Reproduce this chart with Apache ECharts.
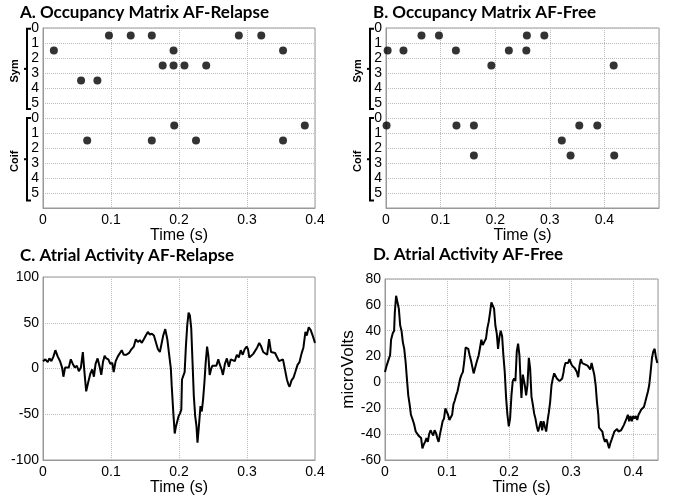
<!DOCTYPE html>
<html>
<head>
<meta charset="utf-8">
<script src="https://cdn.jsdelivr.net/npm/echarts@6/dist/echarts.min.js"></script>
<style>
  html, body { margin: 0; padding: 0; background: #fff; }
  #chart { width: 673px; height: 500px; }
</style>
</head>
<body>
<div id="chart"></div>
<script>
// occupancy matrices: [time (s), row] - row 0..5, dots sit between grid lines
const relapseSym = [
  [0.097, 0.5], [0.129, 0.5], [0.160, 0.5], [0.288, 0.5], [0.321, 0.5],
  [0.016, 1.5], [0.192, 1.5], [0.353, 1.5],
  [0.176, 2.5], [0.192, 2.5], [0.208, 2.5], [0.240, 2.5],
  [0.056, 3.5], [0.080, 3.5]
]
const relapseCoif = [
  [0.193, 0.5], [0.385, 0.5],
  [0.065, 1.5], [0.160, 1.5], [0.225, 1.5], [0.353, 1.5]
]
const freeSym = [
  [0.065, 0.5], [0.097, 0.5], [0.258, 0.5], [0.290, 0.5],
  [0.003, 1.5], [0.032, 1.5], [0.128, 1.5], [0.225, 1.5], [0.257, 1.5],
  [0.193, 2.5], [0.417, 2.5]
]
const freeCoif = [
  [0.001, 0.5], [0.129, 0.5], [0.161, 0.5], [0.354, 0.5], [0.387, 0.5],
  [0.322, 1.5],
  [0.161, 2.5], [0.338, 2.5], [0.418, 2.5]
]
const rowLabels = ['0', '1', '2', '3', '4', '5']

// atrial activity traces: [time (s), microVolts]
const relapseSignal = [
  [0, 8], [0.0034, 10], [0.0069, 7], [0.0094, 11], [0.0123, 8], [0.0153, 13], [0.0182, 20],
  [0.0217, 13], [0.0251, 8], [0.0281, 1], [0.030, -9], [0.0325, 1], [0.035, 3], [0.0379, 1],
  [0.0409, 10], [0.0438, 5], [0.0468, 1], [0.0498, 3], [0.0527, -3], [0.0557, 1], [0.0586, 18],
  [0.0606, -1], [0.0635, -25], [0.0665, -15], [0.0695, -6], [0.0724, -1], [0.0749, -9],
  [0.0773, 5], [0.0803, 11], [0.0833, 2], [0.0857, -7], [0.0882, 7], [0.0906, 14], [0.0931, 11],
  [0.0961, 10], [0.099, 5], [0.102, 6], [0.1039, -4], [0.1069, 8], [0.1099, 13], [0.1128, 11],
  [0.1158, 20], [0.1187, 15], [0.1227, 15], [0.1266, 17], [0.130, 21], [0.1335, 24], [0.1365, 32],
  [0.1394, 29], [0.1424, 31], [0.1453, 28], [0.1483, 32], [0.1512, 36], [0.1542, 40], [0.1571, 37],
  [0.1601, 38], [0.1631, 36], [0.166, 38], [0.169, 21], [0.1719, 18], [0.1739, 17], [0.1768, 36],
  [0.1798, 43], [0.1828, 32], [0.1857, 14], [0.188, 0], [0.1893, -19], [0.1917, -49], [0.1937, -71],
  [0.1956, -63], [0.1976, -62], [0.1995, -52], [0.2015, -49], [0.2034, -45], [0.2044, -12],
  [0.2063, -8], [0.2083, -4], [0.2102, 25], [0.2121, 47], [0.2141, 61], [0.216, 58], [0.218, 44],
  [0.2199, 7], [0.2218, -30], [0.2238, -52], [0.2257, -63], [0.2272, -81], [0.2296, -60],
  [0.2316, -41], [0.2335, -47], [0.2354, -34], [0.2374, -15], [0.2393, 7], [0.2413, 24],
  [0.2432, 14], [0.2451, -7], [0.2471, -1], [0.249, 3], [0.2519, 1], [0.2549, 3], [0.2578, 10],
  [0.2597, 5], [0.2626, -1], [0.2646, -7], [0.2675, 5], [0.2704, 11], [0.2733, 2], [0.2762, 10],
  [0.2791, 11], [0.282, 8], [0.285, 15], [0.2879, 12], [0.2908, 20], [0.2937, 15], [0.2966, 21],
  [0.2995, 24], [0.3015, 21], [0.3034, 12], [0.3063, 13], [0.3092, 16], [0.3121, 18], [0.315, 23],
  [0.318, 28], [0.3209, 24], [0.3238, 18], [0.3267, 20], [0.3296, 15], [0.3325, 32], [0.3354, 18],
  [0.3383, 16], [0.3413, 17], [0.3442, 15], [0.3471, 8], [0.35, 7], [0.3529, 10], [0.3558, -1],
  [0.3587, -12], [0.3607, -17], [0.3626, -20], [0.3655, -13], [0.3684, -10], [0.3714, -3],
  [0.3743, 4], [0.3772, 7], [0.3801, 16], [0.383, 23], [0.3859, 40], [0.3879, 36], [0.3908, 45],
  [0.3937, 42], [0.3966, 36], [0.4, 28]
]
const freeSignal = [
  [0, 8], [0.0027, 13], [0.006, 18], [0.0082, 21], [0.0098, 33], [0.0125, 38], [0.0147, 40],
  [0.0158, 54], [0.0179, 67], [0.0201, 62], [0.0223, 57], [0.0245, 44], [0.0266, 40], [0.0288, 31],
  [0.031, 26], [0.0332, 16], [0.0353, 3], [0.0375, -10], [0.0397, -17], [0.0418, -25], [0.044, -28],
  [0.0467, -32], [0.0495, -38], [0.0522, -39], [0.0538, -41], [0.056, -40], [0.0582, -43],
  [0.0603, -51], [0.0625, -48], [0.0647, -46], [0.0668, -43], [0.069, -46], [0.0712, -40],
  [0.0734, -37], [0.0755, -39], [0.0777, -41], [0.0799, -37], [0.0821, -39], [0.0842, -43],
  [0.0864, -46], [0.0886, -40], [0.0908, -35], [0.0929, -30], [0.0951, -28], [0.0973, -20],
  [0.0995, -19], [0.1016, -25], [0.1038, -29], [0.106, -29], [0.1082, -25], [0.1103, -17],
  [0.1125, -14], [0.1147, -10], [0.1168, -7], [0.119, -2], [0.1212, 3], [0.1234, 6], [0.1255, 8],
  [0.1277, 16], [0.1299, 27], [0.1321, 28], [0.1342, 26], [0.1364, 21], [0.1386, 17], [0.1408, 17],
  [0.1429, 7], [0.1451, 8], [0.1473, 15], [0.1495, 14], [0.151, 21], [0.1532, 27], [0.1553, 33],
  [0.1575, 29], [0.1607, 28], [0.1628, 34], [0.165, 42], [0.1672, 47], [0.1693, 54], [0.1715, 62],
  [0.1736, 63], [0.1758, 57], [0.1779, 44], [0.1801, 38], [0.1822, 26], [0.1844, 35], [0.1865, 40],
  [0.1887, 36], [0.1908, 21], [0.193, 8], [0.1952, -12], [0.1973, -25], [0.1995, -34], [0.2016, -28],
  [0.2038, -10], [0.2059, 1], [0.2081, 3], [0.2102, 1], [0.2124, 24], [0.2145, 30], [0.2167, 21],
  [0.2188, -2], [0.2199, -12], [0.2221, 6], [0.2232, 6], [0.2253, -2], [0.2275, -10], [0.2296, -2],
  [0.2318, 19], [0.2339, 11], [0.2361, -11], [0.2382, -17], [0.2404, -24], [0.2425, -28],
  [0.2447, -34], [0.2468, -38], [0.249, -37], [0.2512, -30], [0.2533, -37], [0.2555, -30],
  [0.2576, -34], [0.2598, -38], [0.2619, -30], [0.2641, -23], [0.2662, -15], [0.2684, -2],
  [0.2705, 3], [0.2727, 7], [0.2749, 6], [0.277, 3], [0.2792, 3], [0.2813, 1], [0.2835, 1],
  [0.2856, 3], [0.2878, 8], [0.2886, 11], [0.2908, 15], [0.293, 16], [0.2951, 15], [0.2973, 18],
  [0.2995, 15], [0.3016, 13], [0.3038, 14], [0.3059, 11], [0.3092, 8], [0.3114, 4], [0.3135, 13],
  [0.3157, 18], [0.3178, 15], [0.32, 15], [0.3222, 14], [0.3243, 15], [0.3265, 13], [0.3286, 13],
  [0.3308, 10], [0.333, 15], [0.3351, 15], [0.3373, 6], [0.3395, -2], [0.3416, -15], [0.3438, -25],
  [0.3449, -35], [0.3481, -36], [0.3503, -38], [0.3524, -43], [0.3546, -46], [0.3568, -44],
  [0.3589, -47], [0.3611, -51], [0.3632, -47], [0.3654, -44], [0.3676, -43], [0.3697, -38],
  [0.3719, -38], [0.3741, -36], [0.3762, -38], [0.3784, -39], [0.3805, -37], [0.3827, -35],
  [0.3849, -33], [0.387, -32], [0.3892, -28], [0.3914, -25], [0.3935, -30], [0.3957, -26],
  [0.3978, -30], [0.40, -26], [0.4022, -28], [0.4043, -26], [0.4065, -29], [0.4086, -25],
  [0.4108, -23], [0.413, -21], [0.4151, -20], [0.4173, -19], [0.4195, -15], [0.4216, -11],
  [0.4238, -7], [0.4259, -2], [0.4281, 8], [0.4303, 19], [0.4324, 24], [0.4346, 26], [0.4368, 19],
  [0.4389, 15], [0.44, 15]
]

const FONT = 'Liberation Sans'
const TITLE_FONT = 'Lato'

const chart = echarts.init(document.getElementById('chart'))

function xAxisCfg (gridIndex, max, nameGap) {
  return {
    gridIndex: gridIndex,
    type: 'value',
    min: 0,
    max: max,
    interval: 0.1,
    name: 'Time (s)',
    nameLocation: 'middle',
    nameGap: nameGap,
    nameTextStyle: { fontFamily: FONT, fontSize: 16, color: '#000' },
    axisLine: { show: true, onZero: false, lineStyle: { color: '#999', width: 1 } },
    axisTick: { show: false },
    axisLabel: {
      fontFamily: FONT, fontSize: 14, color: '#000', margin: 5,
      showMaxLabel: max === 0.4,
      formatter: v => String(Math.round(v * 10) / 10)
    },
    splitLine: { show: true, lineStyle: { color: '#bbb', type: 'dotted', width: 1 } }
  }
}

function rowAxisCfg (gridIndex) {
  return {
    gridIndex: gridIndex,
    type: 'value',
    inverse: true,
    min: 0,
    max: 12,
    interval: 1,
    axisLine: { show: true, lineStyle: { color: '#999', width: 1 } },
    axisTick: { show: false },
    axisLabel: {
      fontFamily: FONT, fontSize: 14, color: '#000', margin: 4,
      formatter: function (v) {
        if (v <= 5) return rowLabels[v]
        if (v >= 6 && v <= 11) return rowLabels[v - 6]
        return ''
      }
    },
    splitLine: { show: true, lineStyle: { color: '#bbb', type: 'dotted', width: 1 } }
  }
}

function signalAxisCfg (gridIndex, min, max, interval, name) {
  return {
    gridIndex: gridIndex,
    type: 'value',
    min: min,
    max: max,
    interval: interval,
    name: name,
    nameLocation: 'middle',
    nameGap: 25,
    nameTextStyle: { fontFamily: FONT, fontSize: 17, color: '#000' },
    axisLine: { show: true, onZero: false, lineStyle: { color: '#999', width: 1 } },
    axisTick: { show: false },
    axisLabel: { fontFamily: FONT, fontSize: 14, color: '#000', margin: 4 },
    splitLine: { show: true, lineStyle: { color: '#bbb', type: 'dotted', width: 1 } }
  }
}

function titleCfg (text, left, top) {
  return {
    text: text,
    left: left,
    top: top,
    padding: 0,
    textStyle: { fontFamily: TITLE_FONT, fontWeight: 'bold', fontSize: 17, color: '#000' }
  }
}

function dots (data, gridIndex, shift) {
  return {
    type: 'scatter',
    xAxisIndex: gridIndex,
    yAxisIndex: gridIndex,
    symbolSize: 8,
    itemStyle: { color: '#000' },
    silent: true,
    data: data.map(d => [d[0], d[1] + shift])
  }
}

function trace (data, gridIndex) {
  return {
    type: 'line',
    xAxisIndex: gridIndex,
    yAxisIndex: gridIndex,
    showSymbol: false,
    silent: true,
    lineStyle: { color: '#000', width: 2 },
    data: data
  }
}

const boxStyle = { show: true, borderColor: '#999', borderWidth: 1, backgroundColor: 'transparent' }

chart.setOption({
  animation: false,
  backgroundColor: '#fff',
  title: [
    titleCfg('A. Occupancy Matrix AF-Relapse', 20, 4),
    titleCfg('B. Occupancy Matrix AF-Free', 373, 4),
    titleCfg('C. Atrial Activity AF-Relapse', 20, 247),
    titleCfg('D. Atrial Activity AF-Free', 373, 246)
  ],
  grid: [
    Object.assign({ left: 43, top: 28, width: 272, height: 180 }, boxStyle),
    Object.assign({ left: 386, top: 28, width: 273, height: 180 }, boxStyle),
    Object.assign({ left: 43, top: 277, width: 272, height: 183 }, boxStyle),
    Object.assign({ left: 385, top: 279, width: 273, height: 181 }, boxStyle)
  ],
  xAxis: [
    xAxisCfg(0, 0.4, 12),
    xAxisCfg(1, 0.5, 12),
    xAxisCfg(2, 0.4, 18),
    xAxisCfg(3, 0.44, 18)
  ],
  yAxis: [
    rowAxisCfg(0),
    rowAxisCfg(1),
    signalAxisCfg(2, -100, 100, 50, ''),
    signalAxisCfg(3, -60, 80, 20, 'microVolts')
  ],
  series: [
    dots(relapseSym, 0, 0),
    dots(relapseCoif, 0, 6),
    dots(freeSym, 1, 0),
    dots(freeCoif, 1, 6),
    trace(relapseSignal, 2),
    trace(freeSignal, 3)
  ]
})

// brackets with Sym / Coif labels left of the occupancy axes
function bracket (gridIndex, from, to, label) {
  const top = chart.convertToPixel({ gridIndex: gridIndex }, [0, from])
  const bot = chart.convertToPixel({ gridIndex: gridIndex }, [0, to])
  const x = top[0] - 16
  const y0 = top[1]
  const y1 = bot[1]
  const ym = (y0 + y1) / 2
  return [
    {
      type: 'polyline',
      shape: { points: [[x + 4, y0], [x, y0], [x, y1], [x + 4, y1]] },
      style: { stroke: '#000', lineWidth: 2, fill: null }
    },
    {
      type: 'line',
      shape: { x1: x, y1: ym, x2: x - 3, y2: ym },
      style: { stroke: '#000', lineWidth: 2 }
    },
    {
      type: 'text',
      x: x - 12,
      y: ym + 2,
      rotation: Math.PI / 2,
      style: {
        text: label,
        font: 'bold 11px "Liberation Sans"',
        fill: '#000',
        align: 'center',
        verticalAlign: 'middle'
      }
    }
  ]
}

chart.setOption({
  graphic: [].concat(
    bracket(0, 0.05, 5.4, 'Sym'),
    bracket(0, 6.0, 11.5, 'Coif'),
    bracket(1, 0.05, 5.4, 'Sym'),
    bracket(1, 6.0, 11.5, 'Coif')
  )
})
</script>
</body>
</html>
